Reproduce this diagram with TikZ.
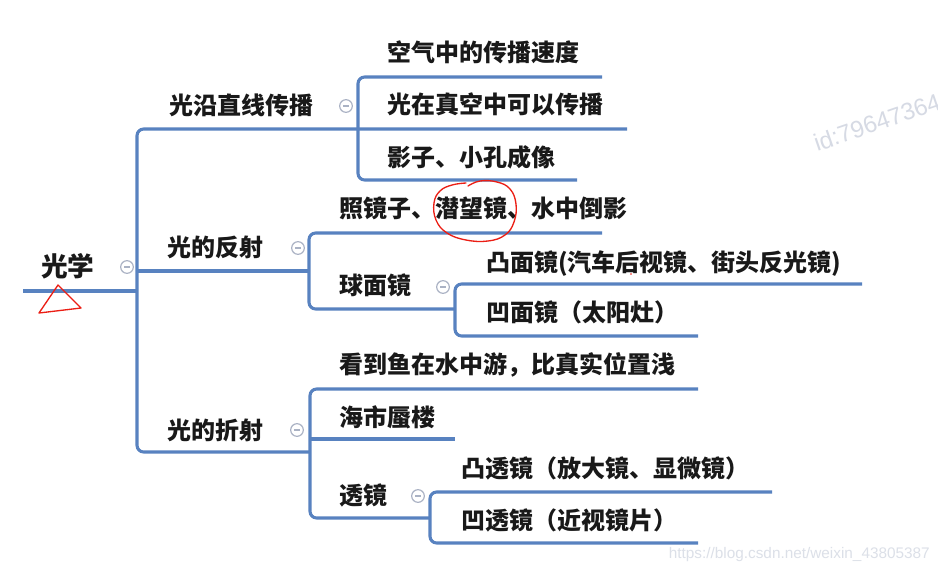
\documentclass[tikz,border=0pt]{standalone}
\usepackage{fontspec}
\newfontfamily\cjk{Noto Sans CJK SC}
\newfontfamily\wmfont{Liberation Sans}
\definecolor{lineblue}{RGB}{88,130,192}
\definecolor{iconcol}{RGB}{170,178,196}
\definecolor{txtcol}{RGB}{25,25,25}
\definecolor{annot}{RGB}{235,30,20}
\definecolor{wmcol}{RGB}{214,218,228}
\begin{document}
\begin{tikzpicture}[x=0.75pt,y=-0.75pt]
\tikzset{
  conn/.style={draw=lineblue, line width=2.3pt, rounded corners=5pt, line join=round},
  tx/.style={anchor=base west, inner sep=0pt, text=txtcol, font=\cjk\bfseries\fontsize{18pt}{18pt}\selectfont},
  rootx/.style={tx, font=\cjk\bfseries\fontsize{20pt}{20pt}\selectfont},
  fold/.style={circle, draw=iconcol, fill=white, line width=0.9pt, minimum size=9.5pt, inner sep=0pt,
    path picture={\draw[iconcol, line width=0.9pt] ([xshift=-2.2pt]path picture bounding box.center) -- ([xshift=2.2pt]path picture bounding box.center);}},
  mark annot/.style={draw=annot, line width=1pt, line cap=round, line join=round}
}
\clip (0,0) rectangle (938,571);
\fill[white] (0,0) rectangle (938,571);

% ---------- text nodes ----------
\node[rootx] (root) at (41,276) {光学};
\node[tx] (n1)  at (169,114) {光沿直线传播};
\node[tx] (n11) at (387,61)  {空气中的传播速度};
\node[tx] (n12) at (387,113) {光在真空中可以传播};
\node[tx] (n13) at (387,166) {影子、小孔成像};
\node[tx] (n2)  at (167,256) {光的反射};
\node[tx] (n21) at (339,217) {照镜子、潜望镜、水中倒影};
\node[tx] (n22) at (339,294) {球面镜};
\node[tx] (n221) at (486,271) {凸面镜(汽车后视镜、街头反光镜)};
\node[tx] (n222) at (486,321) {凹面镜（太阳灶）};
\node[tx] (n3)  at (167,439) {光的折射};
\node[tx] (n31) at (339,373) {看到鱼在水中游，比真实位置浅};
\node[tx] (n32) at (339,426) {海市蜃楼};
\node[tx] (n33) at (339,504) {透镜};
\node[tx] (n331) at (461,477) {凸透镜（放大镜、显微镜）};
\node[tx] (n332) at (461,529) {凹透镜（近视镜片）};

% ---------- connector coordinates ----------
\coordinate (rootS) at (23,291);
\coordinate (mainX) at (137,291);
\coordinate (mTop) at (137,129);
\coordinate (mBot) at (137,452);
\coordinate (n1E) at (627,129);
\coordinate (n2L) at (137,271);
\coordinate (n2J) at (309,271);
\coordinate (n3J) at (310,452);
% branch 1
\coordinate (b1T) at (358,77);
\coordinate (b1B) at (358,180);
\coordinate (n11E) at (602,77);
\coordinate (n13E) at (577,180);
% branch 2
\coordinate (b2T) at (309,233);
\coordinate (b2B) at (309,309);
\coordinate (n21E) at (602,233);
\coordinate (n22J) at (455,309);
\coordinate (b22T) at (455,284);
\coordinate (b22B) at (455,336);
\coordinate (n221E) at (862,284);
\coordinate (n222E) at (698,336);
% branch 3
\coordinate (b3T) at (310,389);
\coordinate (b3B) at (310,518);
\coordinate (n31E) at (698,389);
\coordinate (n32L) at (310,439);
\coordinate (n32E) at (455,439);
\coordinate (n33J) at (430,518);
\coordinate (b33T) at (430,492);
\coordinate (b33B) at (430,543);
\coordinate (n331E) at (772,492);
\coordinate (n332E) at (698,543);

% ---------- connectors ----------
\draw[conn] (rootS) -- (mainX);
\draw[conn] (n1E) -- (mTop) -- (mBot) -- (n3J);
\draw[conn] (n2L) -- (n2J);
\draw[conn] (n11E) -- (b1T) -- (b1B) -- (n13E);
\draw[conn] (n21E) -- (b2T) -- (b2B) -- (n22J);
\draw[conn] (n221E) -- (b22T) -- (b22B) -- (n222E);
\draw[conn] (n31E) -- (b3T) -- (b3B) -- (n33J);
\draw[conn] (n32L) -- (n32E);
\draw[conn] (n331E) -- (b33T) -- (b33B) -- (n332E);

% ---------- fold icons ----------
\node[fold] (f0) at (127,267) {};
\node[fold] (f1) at (346,106) {};
\node[fold] (f2) at (298,248) {};
\node[fold] (f22) at (443,287) {};
\node[fold] (f3) at (297,430) {};
\node[fold] (f33) at (418,496) {};

% ---------- hand annotations ----------
\draw[mark annot] plot[smooth, tension=0.7] coordinates {
  (468,186) (480,181) (497,182) (510,189) (516,204) (514,222) (505,235)
  (488,241) (466,240) (447,233) (436,220) (434,203) (440,191) (452,185) (466,183)};
\draw[mark annot] (58,285) -- (81,308) -- (39,313) -- cycle;
\fill[annot] (631,274) circle (0.8);

% ---------- watermarks ----------
\node[anchor=base west, inner sep=0pt, text=wmcol, rotate=19,
  font=\wmfont\fontsize{18pt}{18pt}\selectfont] (wm1) at (817,152) {id:79647364};
\node[anchor=base east, inner sep=0pt, text=wmcol!85!white,
  font=\wmfont\fontsize{11.5pt}{11.5pt}\selectfont] (wm2) at (930,558) {https://blog.csdn.net/weixin\_43805387};
\end{tikzpicture}
\end{document}
